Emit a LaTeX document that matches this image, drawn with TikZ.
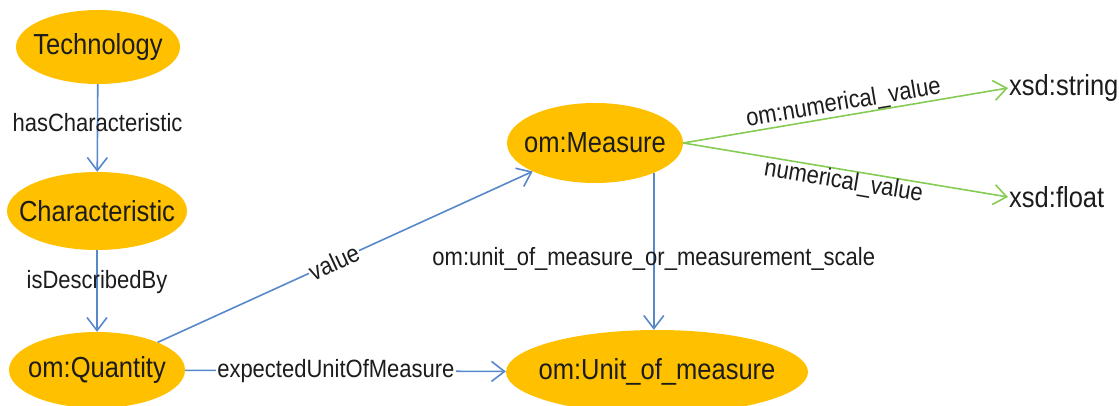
\documentclass[tikz,border=0pt]{standalone}
\usepackage{fontspec}
\setmainfont{Liberation Sans}[FakeStretch=0.88]
\usetikzlibrary{arrows.meta,shapes.geometric}

\definecolor{classfill}{RGB}{255,192,0}
\definecolor{objedge}{RGB}{86,136,202}
\definecolor{dataedge}{RGB}{134,204,84}
\definecolor{inktext}{RGB}{28,28,28}

% zero-width box so that the ellipse keeps its given size
\newcommand{\ctext}[1]{\makebox[0pt]{#1}}

\tikzset{
  cls/.style={ellipse, fill=classfill, inner sep=0pt, text=inktext,
    font=\fontsize{29}{34}\selectfont},
  lit/.style={inner sep=1pt, text=inktext, font=\fontsize{29}{34}\selectfont},
  rel/.style={draw=objedge, line width=1.6pt,
    -{Straight Barb[length=13pt,width=20pt,line width=1.6pt]}},
  datarel/.style={draw=dataedge, line width=1.6pt,
    -{Straight Barb[length=13pt,width=20pt,line width=1.6pt]}},
  lbl/.style={inner sep=1pt, text=inktext, font=\fontsize{25}{30}\selectfont},
  lblbg/.style={lbl, fill=white},
}

\begin{document}
\begin{tikzpicture}[x=1pt,y=-1pt]
  \useasboundingbox (0,0) rectangle (1119,406);

  % classes
  \node[cls, minimum width=164pt, minimum height=74pt] (tech) at (98,47) {\ctext{Technology}};
  \node[cls, minimum width=180pt, minimum height=78pt] (char) at (97,211) {\ctext{Characteristic}};
  \node[cls, minimum width=176pt, minimum height=76pt] (qty)  at (97,370) {\ctext{om:Quantity}};
  \node[cls, minimum width=176pt, minimum height=80pt] (meas) at (595,143) {\ctext{om:Measure}};
  \node[cls, minimum width=302pt, minimum height=84pt] (unit) at (657,372) {\ctext{om:Unit\_of\_measure}};

  % datatypes
  \node[lit, anchor=west] (str) at (1008,88) {xsd:string};
  \node[lit, anchor=west] (flt) at (1008,197) {xsd:float};

  % object properties
  \draw[rel] (tech) -- node[lbl, pos=0.44] {hasCharacteristic} (char);
  \draw[rel] (char) -- node[lbl, pos=0.39] {isDescribedBy} (qty);
  \draw[rel] (qty) -- node[lblbg, pos=0.47, sloped] {value} (meas);
  \draw[rel] (qty) -- node[lblbg, pos=0.47] {expectedUnitOfMeasure} (unit);
  \coordinate (mfoot) at (meas.-27);
  \draw[rel] (mfoot) -- node[lbl, pos=0.55] {om:unit\_of\_measure\_or\_measurement\_scale} (mfoot |- unit.north);

  % datatype properties
  \draw[datarel] (meas.east) -- node[lbl, inner sep=0pt, pos=0.5, sloped, anchor=south] {om:numerical\_value} (str.west);
  \draw[datarel] (meas.east) -- node[lbl, inner sep=0pt, pos=0.5, sloped, anchor=north] {numerical\_value} (flt.west);
\end{tikzpicture}
\end{document}
